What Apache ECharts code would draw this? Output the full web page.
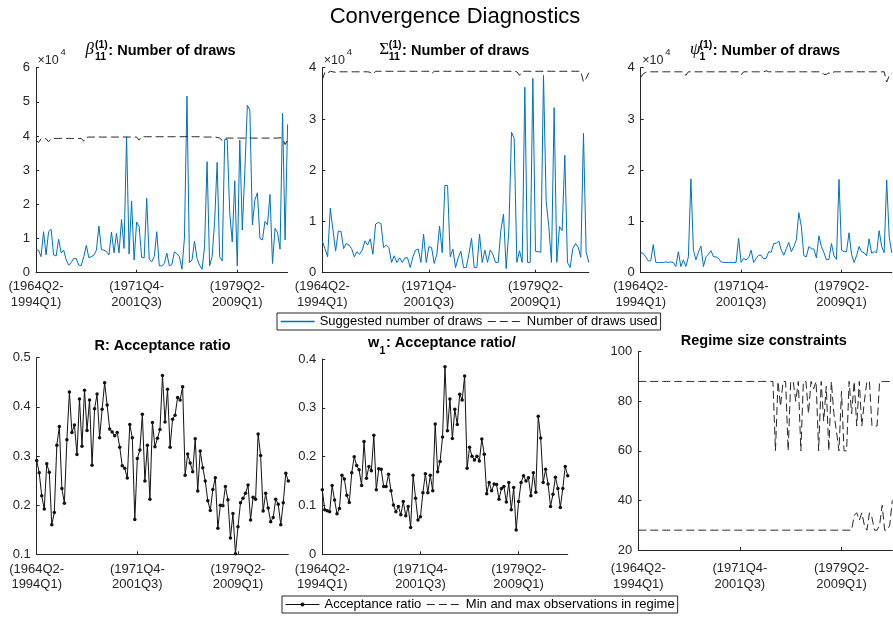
<!DOCTYPE html>
<html>
<head>
<meta charset="utf-8">
<title>Convergence Diagnostics</title>
<script src="https://cdn.jsdelivr.net/npm/echarts@6.0.0/dist/echarts.min.js"></script>
<style>
  html, body { margin: 0; padding: 0; background: #fff; }
  #chart { width: 893px; height: 619px; }
</style>
</head>
<body>
<div id="chart"></div>
<script>
// one point per rolling estimation window
const windowIndex = Array.from({ length: 101 }, (_, i) => String(i));
const tickPos = [0, 40, 80];
const tickLabels = ['(1964Q2-\n1994Q1)', '(1971Q4-\n2001Q3)', '(1979Q2-\n2009Q1)'];

// beta_11: suggested / used number of draws
const suggestedBeta = [
  6600, 6600, 4700, 12000, 5200, 12000, 12700, 5200, 4900, 9800,
  5800, 6600, 3700, 2200, 3000, 4200, 4100, 2200, 2100, 4700,
  8000, 4400, 4700, 5100, 6600, 13700, 6800, 6600, 6200, 5200,
  11900, 5800, 11500, 5800, 15600, 7100, 39800, 5500, 21000, 3700,
  14800, 13500, 4400, 4400, 21800, 3900, 3200, 4700, 12000, 2000,
  2000, 2700, 5700, 2000, 2400, 6100, 5600, 4700, 1000, 10200,
  51700, 3000, 3700, 9200, 4200, 2200, 1000, 7600, 32500, 2000,
  4700, 15000, 32300, 4700, 3400, 39000, 39000, 17600, 9000, 26900,
  2000, 38800, 12500, 29600, 49000, 47600, 14000, 21300, 23400, 10000,
  9600, 15000, 14000, 22900, 2700, 13000, 11700, 6900, 46600, 9600,
  43400
];
const usedBeta = [
  38800, 38100, 39200, 39300, 39200, 38300, 39200, 39300, 39300, 39300,
  39300, 39300, 39300, 39300, 39300, 39300, 39300, 39300, 39300, 38500,
  39600, 39700, 39700, 39700, 39700, 39700, 39700, 39700, 39700, 39700,
  39700, 39700, 39700, 39700, 39700, 39700, 39700, 39700, 39700, 39700,
  39700, 38800, 39800, 39800, 39800, 39800, 39800, 39800, 39800, 39800,
  39800, 39800, 39800, 39800, 39800, 39800, 39800, 39800, 39800, 39800,
  39900, 39800, 39800, 39800, 39800, 39800, 39800, 39700, 39700, 39700,
  39700, 39700, 39600, 39400, 38700, 39400, 39400, 39400, 39400, 39400,
  39400, 39400, 39400, 39400, 39400, 39400, 39400, 39400, 39400, 39400,
  39400, 39400, 39400, 39400, 39400, 39400, 39400, 39500, 39300, 37500,
  38900
];

// Sigma_11
const suggestedSigma = [
  6200, 4700, 3100, 12600, 8300, 4200, 8100, 8100, 4700, 5700,
  5400, 4700, 3100, 4100, 3600, 4400, 6200, 5400, 6600, 3600,
  9500, 9800, 9600, 4900, 5400, 4900, 2000, 3300, 2000, 2900,
  2000, 2900, 2900, 1000, 3100, 4400, 4600, 2000, 7500, 2000,
  5100, 4900, 1800, 3600, 9100, 3900, 17000, 17000, 3100, 4600,
  1000, 2900, 4200, 1000, 1000, 3600, 6700, 1000, 1000, 7500,
  2000, 4400, 2000, 4400, 3600, 2000, 2000, 8300, 11400, 800,
  8300, 27400, 26200, 2000, 4300, 2000, 36200, 2000, 2000, 37900,
  4200, 4100, 4000, 38500, 14000, 9000, 2000, 32200, 2000, 9000,
  8200, 22900, 2000, 1000, 4700, 5700, 5000, 3000, 27200, 4000,
  2000
];
const usedSigma = [
  37600, 39200, 39000, 39300, 39200, 39100, 39200, 39200, 39200, 39200,
  39200, 39200, 39200, 39200, 39200, 39200, 39200, 39200, 39100, 38700,
  39300, 39300, 39300, 39300, 39300, 39300, 39300, 39300, 39300, 39300,
  39300, 39300, 39300, 39300, 39300, 39300, 39300, 39300, 39300, 39300,
  39300, 38800, 39300, 39300, 39300, 39300, 39300, 39300, 39300, 39300,
  39300, 39300, 39300, 39300, 39300, 39300, 39300, 39300, 39300, 39300,
  39300, 39300, 39300, 39300, 39300, 39300, 39300, 39300, 39300, 39300,
  39300, 39300, 39300, 39200, 38500, 39300, 39300, 39300, 39300, 39300,
  39300, 39300, 39300, 39300, 39300, 39300, 39300, 39300, 39300, 39300,
  39300, 39300, 39300, 39300, 39300, 39300, 39300, 39300, 37200, 37900,
  39000
];

// psi_1
const suggestedPsi = [
  3900, 3800, 3100, 2300, 2300, 5500, 2000, 2000, 2000, 2000,
  2100, 2000, 2100, 2000, 1200, 4100, 1200, 2500, 1200, 3100,
  18300, 4400, 2500, 4000, 5200, 1200, 3100, 3600, 4300, 3100,
  3100, 2800, 2100, 2000, 2000, 2000, 2000, 2000, 2000, 6700,
  2000, 2800, 2500, 2900, 4400, 2000, 2800, 3400, 3400, 2700,
  2800, 4100, 4000, 5700, 5700, 6200, 4400, 3400, 4700, 5900,
  4100, 5100, 6400, 11700, 9000, 3300, 3100, 5100, 4700, 4600,
  2900, 7200, 5100, 3900, 2500, 2600, 5700, 3300, 2600, 18200,
  4400, 4100, 4100, 7800, 3600, 2000, 3300, 5100, 4100, 3900,
  3300, 6600, 3800, 4100, 3900, 8200, 5100, 3900, 18100, 7000,
  3900
];
const usedPsi = [
  38100, 38800, 39100, 39200, 39200, 39200, 39200, 39200, 39200, 39200,
  39200, 39200, 39200, 39200, 39200, 39200, 39200, 39200, 38500, 39200,
  39200, 39200, 39200, 39200, 39200, 39200, 39200, 39200, 39200, 39200,
  39200, 39200, 39200, 39200, 39200, 39200, 39200, 39200, 39200, 39200,
  38600, 39200, 39200, 39200, 39200, 39200, 39200, 39200, 39200, 39200,
  39400, 39200, 39200, 39200, 39200, 39200, 39200, 39200, 39200, 39200,
  39200, 39200, 39200, 39200, 39200, 39200, 39200, 39200, 39200, 39200,
  39200, 39200, 39200, 38700, 38700, 39000, 38800, 39200, 39200, 39200,
  39200, 39200, 39200, 39200, 39200, 39200, 39200, 39200, 39200, 39200,
  39200, 39200, 39200, 39200, 39200, 39200, 39200, 39200, 37200, 38400,
  39000
];

// acceptance ratios
const acceptR = [
  0.291, 0.266, 0.219, 0.192, 0.284, 0.267, 0.160, 0.185, 0.322, 0.360,
  0.234, 0.204, 0.333, 0.430, 0.348, 0.363, 0.303, 0.416, 0.320, 0.434,
  0.352, 0.414, 0.281, 0.396, 0.426, 0.337, 0.395, 0.449, 0.404, 0.355,
  0.349, 0.341, 0.348, 0.318, 0.280, 0.275, 0.255, 0.364, 0.337, 0.171,
  0.295, 0.312, 0.385, 0.249, 0.322, 0.212, 0.368, 0.319, 0.336, 0.354,
  0.464, 0.369, 0.436, 0.318, 0.375, 0.383, 0.419, 0.414, 0.441, 0.261,
  0.304, 0.286, 0.268, 0.335, 0.229, 0.310, 0.276, 0.249, 0.209, 0.189,
  0.232, 0.256, 0.153, 0.200, 0.199, 0.238, 0.211, 0.133, 0.183, 0.101,
  0.156, 0.205, 0.214, 0.224, 0.241, 0.170, 0.216, 0.212, 0.345, 0.301,
  0.188, 0.224, 0.194, 0.166, 0.175, 0.212, 0.202, 0.160, 0.205, 0.265,
  0.249
];
const acceptW = [
  0.132, 0.091, 0.089, 0.087, 0.141, 0.111, 0.083, 0.094, 0.162, 0.154,
  0.121, 0.106, 0.167, 0.200, 0.182, 0.173, 0.141, 0.231, 0.156, 0.180,
  0.171, 0.244, 0.132, 0.175, 0.174, 0.139, 0.139, 0.164, 0.130, 0.101,
  0.087, 0.098, 0.081, 0.108, 0.079, 0.098, 0.055, 0.162, 0.115, 0.070,
  0.077, 0.126, 0.165, 0.126, 0.162, 0.130, 0.267, 0.169, 0.190, 0.240,
  0.384, 0.253, 0.318, 0.237, 0.297, 0.266, 0.328, 0.316, 0.365, 0.176,
  0.219, 0.201, 0.193, 0.201, 0.191, 0.236, 0.205, 0.124, 0.147, 0.130,
  0.144, 0.143, 0.113, 0.135, 0.139, 0.107, 0.147, 0.091, 0.137, 0.050,
  0.108, 0.147, 0.161, 0.150, 0.157, 0.120, 0.167, 0.127, 0.283, 0.238,
  0.147, 0.174, 0.144, 0.098, 0.123, 0.158, 0.135, 0.096, 0.135, 0.180,
  0.161
];

// regime size constraints (observations)
const regimeMax = [
  88, 88, 88, 88, 88, 88, 88, 88, 88, 88,
  88, 88, 88, 88, 88, 88, 88, 88, 88, 88,
  88, 88, 88, 88, 88, 88, 88, 88, 88, 88,
  88, 88, 88, 88, 88, 88, 88, 88, 88, 88,
  88, 88, 88, 88, 88, 88, 88, 88, 88, 88,
  88, 88, 88, 88, 60, 88, 78, 88, 88, 60,
  88, 88, 80, 88, 60, 88, 88, 75, 88, 85,
  88, 60, 88, 72, 86, 60, 88, 75, 68, 60,
  84, 60, 60, 88, 75, 88, 70, 88, 70, 80,
  88, 88, 70, 70, 70, 88, 88, 88, 88, 88,
  88
];
const regimeMin = [
  28, 28, 28, 28, 28, 28, 28, 28, 28, 28,
  28, 28, 28, 28, 28, 28, 28, 28, 28, 28,
  28, 28, 28, 28, 28, 28, 28, 28, 28, 28,
  28, 28, 28, 28, 28, 28, 28, 28, 28, 28,
  28, 28, 28, 28, 28, 28, 28, 28, 28, 28,
  28, 28, 28, 28, 28, 28, 28, 28, 28, 28,
  28, 28, 28, 28, 28, 28, 28, 28, 28, 28,
  28, 28, 28, 28, 28, 28, 28, 28, 28, 28,
  28, 28, 28, 28, 28, 34, 35, 32, 35, 30,
  28, 35, 33, 28, 28, 30, 38, 28, 28, 30,
  40
];

const FONT = "'Liberation Sans', Arial, Helvetica, sans-serif";
const SERIF = "'Liberation Serif', 'Times New Roman', serif";
const AX = '#262626';
const BLUE = '#0072bd';
const DASH = [8, 4];

const grids = [
  { left: 36, top: 67.7, width: 251.6, height: 205 },
  { left: 322.3, top: 67.7, width: 266.5, height: 205 },
  { left: 640.7, top: 67.7, width: 251, height: 205 },
  { left: 36.7, top: 357.7, width: 251.6, height: 196.6 },
  { left: 322.3, top: 359, width: 245.4, height: 195.3 },
  { left: 638.3, top: 351.7, width: 254, height: 198.3 }
];
// gap between axis line and the two-line window labels
const labelMargin = [6, 6, 6, 7, 7, 11];

const isTick = (idx) => tickPos.indexOf(idx) >= 0;

function xAxisFor(i) {
  return {
    type: 'category',
    gridIndex: i,
    data: windowIndex,
    boundaryGap: false,
    axisLine: { onZero: false, lineStyle: { color: AX, width: 1 } },
    axisTick: { inside: true, length: 3, interval: isTick, lineStyle: { color: AX } },
    axisLabel: {
      interval: isTick,
      formatter: (v) => tickLabels[tickPos.indexOf(Number(v))] || '',
      color: AX, fontFamily: FONT, fontSize: 13, lineHeight: 15.5, margin: labelMargin[i]
    },
    splitLine: { show: false }
  };
}

function yAxisFor(i, min, max, step, fmt) {
  return {
    type: 'value',
    gridIndex: i,
    min, max, interval: step,
    axisLine: { show: true, lineStyle: { color: AX, width: 1 } },
    axisTick: { show: true, inside: true, length: 3, lineStyle: { color: AX } },
    axisLabel: { color: AX, fontFamily: FONT, fontSize: 13, margin: 6, formatter: fmt },
    splitLine: { show: false }
  };
}

const per10k = (v) => String(v / 10000);

function line(name, i, data, extra) {
  return Object.assign({
    name, type: 'line', xAxisIndex: i, yAxisIndex: i, data,
    symbol: 'none', silent: true, animation: false
  }, extra);
}

const blueStyle = { lineStyle: { color: BLUE, width: 1 }, itemStyle: { color: BLUE } };
const dashStyle = { lineStyle: { color: AX, width: 1, type: DASH }, itemStyle: { color: AX } };
const dotStyle = {
  symbol: 'circle', symbolSize: 3.5, showSymbol: true, showAllSymbol: true,
  lineStyle: { color: '#111', width: 1 }, itemStyle: { color: '#111' }
};

function txt(x, y, text, size, extra) {
  const style = Object.assign({
    text, fontSize: size, fontFamily: FONT, fontWeight: 'normal', fill: '#000',
    align: 'left', verticalAlign: 'middle', textAlign: 'left', textVerticalAlign: 'middle'
  }, extra);
  return { type: 'text', x, y, silent: true, style };
}
const bold = { fontWeight: 'bold' };
const centerBold = { fontWeight: 'bold', align: 'center', textAlign: 'center' };

const graphics = [
  txt(455, 17, 'Convergence Diagnostics', 22, { align: 'center', textAlign: 'center' })
];

// top row titles: symbol with stacked super/subscripts
const topSymbols = [
  { sym: '\u03b2', italic: true, sub: '11' },
  { sym: '\u03a3', italic: false, sub: '11' },
  { sym: '\u03c8', italic: true, sub: '1' }
];
topSymbols.forEach((t, i) => {
  const g = grids[i];
  const cx = g.left + g.width / 2;
  graphics.push(
    txt(cx - 76.3, 50, t.sym, 17, { fontFamily: SERIF, fontStyle: t.italic ? 'italic' : 'normal' }),
    txt(cx - 66.8, 45, '(1)', 10.5, bold),
    txt(cx - 66.8, 57.5, t.sub, 10.5, bold),
    txt(cx - 53.5, 51, ': Number of draws', 14.5, bold),
    txt(g.left + 1.5, 60.5, '\u00d710', 12.5, { fill: AX }),
    txt(g.left + 24.5, 52.5, '4', 9.5, { fill: AX })
  );
});

// bottom row titles
{
  const g3 = grids[3], g4 = grids[4], g5 = grids[5];
  const c4 = g4.left + g4.width / 2;
  graphics.push(
    txt(g3.left + g3.width / 2, 346, 'R: Acceptance ratio', 14.5, centerBold),
    txt(c4 - 77, 343, 'w', 14.5, bold),
    txt(c4 - 65.5, 351, '1', 10.5, bold),
    txt(c4 - 59, 343, ': Acceptance ratio/', 14.5, bold),
    txt(g5.left + g5.width / 2 - 1.5, 341, 'Regime size constraints', 14.5, centerBold)
  );
}

const legendBase = {
  orient: 'horizontal',
  itemWidth: 34,
  itemHeight: 5,
  itemGap: 5,
  padding: [2, 3],
  backgroundColor: '#fff',
  borderColor: AX,
  borderWidth: 1,
  borderRadius: 0,
  selectedMode: false,
  textStyle: { color: '#000', fontFamily: FONT, fontSize: 13 },
  lineStyle: { width: 1 },
  itemStyle: { borderWidth: 0 }
};

const hidden = { opacity: 0 };

const option = {
  animation: false,
  backgroundColor: '#fff',
  grid: grids.map((g) => Object.assign({ containLabel: false }, g)),
  xAxis: grids.map((g, i) => xAxisFor(i)),
  yAxis: [
    yAxisFor(0, 0, 60000, 10000, per10k),
    yAxisFor(1, 0, 40000, 10000, per10k),
    yAxisFor(2, 0, 40000, 10000, per10k),
    yAxisFor(3, 0.1, 0.5, 0.1),
    yAxisFor(4, 0, 0.4, 0.1),
    yAxisFor(5, 20, 100, 20)
  ],
  legend: [
    Object.assign({}, legendBase, {
      left: 277, top: 313,
      data: [
        { name: 'Suggested number of draws', itemStyle: hidden, lineStyle: { color: BLUE, width: 1.4 } },
        { name: 'Number of draws used', itemStyle: hidden, lineStyle: { color: AX, width: 1 } }
      ]
    }),
    Object.assign({}, legendBase, {
      left: 282, top: 596,
      data: [
        { name: 'Acceptance ratio', lineStyle: { color: '#111', width: 1 } },
        { name: 'Min and max observations in regime', itemStyle: hidden, lineStyle: { color: AX, width: 1 } }
      ]
    })
  ],
  series: [
    line('Suggested number of draws', 0, suggestedBeta, blueStyle),
    line('Number of draws used', 0, usedBeta, dashStyle),
    line('Suggested number of draws', 1, suggestedSigma, blueStyle),
    line('Number of draws used', 1, usedSigma, dashStyle),
    line('Suggested number of draws', 2, suggestedPsi, blueStyle),
    line('Number of draws used', 2, usedPsi, dashStyle),
    line('Acceptance ratio', 3, acceptR, dotStyle),
    line('Acceptance ratio', 4, acceptW, dotStyle),
    line('Min and max observations in regime', 5, regimeMax, dashStyle),
    line('Min and max observations in regime', 5, regimeMin, dashStyle)
  ],
  graphic: { elements: graphics }
};

const chart = echarts.init(document.getElementById('chart'), null, { renderer: 'canvas' });
chart.setOption(option);
</script>
</body>
</html>
